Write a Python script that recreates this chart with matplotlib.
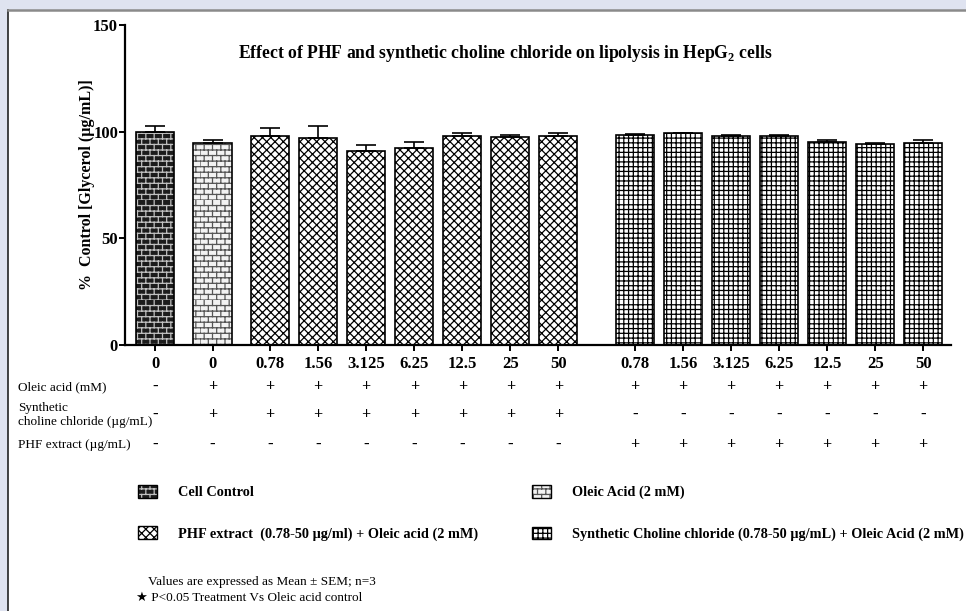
import warnings
import numpy as np
import matplotlib
matplotlib.use("Agg")
import matplotlib.pyplot as plt
import matplotlib.hatch as mhatch
from matplotlib.path import Path
from matplotlib.patches import Patch, Rectangle
from matplotlib.lines import Line2D
from matplotlib.transforms import blended_transform_factory

# 'b' and 'g' are not among matplotlib's built-in hatch letters
warnings.filterwarnings("ignore", message="hatch must consist")

# ---- data -------------------------------------------------------------
dose_labels = ["0", "0", "0.78", "1.56", "3.125", "6.25", "12.5", "25", "50",
               "0.78", "1.56", "3.125", "6.25", "12.5", "25", "50"]
glycerol_mean = [99.8, 94.8, 98.0, 97.0, 91.0, 92.3, 98.0, 97.3, 98.0,
                 98.6, 99.2, 97.8, 97.8, 95.3, 94.4, 94.8]
glycerol_sem = [2.7, 1.4, 3.7, 5.8, 2.6, 3.0, 1.2, 1.1, 1.4,
                0.3, 0.2, 0.6, 0.5, 0.7, 0.4, 1.4]
group = ["cell", "oleic"] + ["phf"] * 7 + ["choline"] * 7

oleic_row = ["-"] + ["+"] * 15
choline_row = ["-"] + ["+"] * 8 + ["-"] * 7
phf_row = ["-"] * 9 + ["+"] * 7
row_labels = ["Oleic acid (mM)", "Synthetic\ncholine chloride (\u00b5g/mL)",
              "PHF extract (\u00b5g/mL)"]

legend_labels = {
    "cell": "Cell Control",
    "oleic": "Oleic Acid (2 mM)",
    "phf": "PHF extract  (0.78-50 \u00b5g/ml) + Oleic acid (2 mM)",
    "choline": "Synthetic Choline chloride (0.78-50 \u00b5g/mL) + Oleic Acid (2 mM)",
}


# ---- extra hatches --------------------------------------------------------
class BrickHatch(mhatch.HatchPatternBase):
    """Staggered brick courses, drawn when the hatch string holds a 'b'."""
    rows, cols = 18, 12

    def __init__(self, hatch, density):
        self.on = "b" in hatch
        self.num_vertices = self.rows * (self.cols + 1) * 2 if self.on else 0

    def set_vertices_and_codes(self, vertices, codes):
        segs = []
        for i in range(self.rows):
            y0, y1 = i / self.rows, (i + 1) / self.rows
            segs.append(((0.0, y0), (1.0, y0)))
            for j in range(self.cols):
                xx = (j + 0.5 * (i % 2)) / self.cols
                segs.append(((xx, y0), (xx, y1)))
        vertices[:] = np.array(segs, float).reshape(-1, 2)
        codes[0::2] = Path.MOVETO
        codes[1::2] = Path.LINETO


class GridHatch(mhatch.HatchPatternBase):
    """Fine square grid, drawn for a 'g'."""
    n = 21

    def __init__(self, hatch, density):
        self.on = "g" in hatch
        self.num_vertices = self.n * 4 if self.on else 0

    def set_vertices_and_codes(self, vertices, codes):
        segs = []
        for k in np.arange(self.n) / self.n:
            segs.append(((0.0, k), (1.0, k)))
            segs.append(((k, 0.0), (k, 1.0)))
        vertices[:] = np.array(segs, float).reshape(-1, 2)
        codes[0::2] = Path.MOVETO
        codes[1::2] = Path.LINETO


mhatch._hatch_types.extend([BrickHatch, GridHatch])

# fill, hatch colour, hatch pattern for each treatment group
styles = {
    "cell": ("#1c1c1c", "#c0c0c0", "b"),
    "oleic": ("#f2f2f2", "#555555", "b"),
    "phf": ("white", "black", "xxxx"),
    "choline": ("white", "black", "g"),
}

plt.rcParams["font.family"] = ["Liberation Serif", "DejaVu Sans"]
plt.rcParams["hatch.linewidth"] = 0.9
plt.rcParams["mathtext.fontset"] = "custom"
plt.rcParams["mathtext.rm"] = "Liberation Serif"
plt.rcParams["mathtext.bf"] = "Liberation Serif:bold"

W, H = 966, 611
fig = plt.figure(figsize=(W / 100, H / 100), dpi=100, facecolor="#dfe3f0")

# white panel with a dark left rule and grey top rule
fig.patches.append(Rectangle((8 / W, 0), 1, 1 - 10 / H, transform=fig.transFigure,
                             facecolor="white", edgecolor="none", zorder=-5))
fig.lines.append(Line2D([8 / W, 8 / W], [0, 1 - 10 / H], transform=fig.transFigure,
                        color="#222222", lw=1.2))
fig.lines.append(Line2D([8 / W, 1], [1 - 10 / H, 1 - 10 / H], transform=fig.transFigure,
                        color="#8a8a8a", lw=1.8))

ax = fig.add_axes([125 / W, 1 - 345 / H, (951 - 125) / W, (345 - 25) / H])
ax.set_facecolor("none")

x = np.concatenate([[0.0, 1.2], 2.4 + np.arange(7), 10.0 + np.arange(7)])
mean = np.array(glycerol_mean)
sem = np.array(glycerol_sem)
grp = np.array(group)
width = 0.8

for g, (fc, hc, hp) in styles.items():
    m = grp == g
    if g in ("cell", "oleic"):
        ax.bar(x[m], mean[m], width, color=fc, edgecolor=hc, linewidth=0, hatch=hp)
        ax.bar(x[m], mean[m], width, fill=False, edgecolor="black", linewidth=1.2)
    else:
        ax.bar(x[m], mean[m], width, color=fc, edgecolor=hc, linewidth=1.2, hatch=hp)

ax.errorbar(x, mean, yerr=[np.zeros_like(sem), sem], fmt="none", ecolor="black",
            elinewidth=1.2, capsize=7, capthick=1.2, zorder=3)

ax.set_xlim(-0.625, 16.58)
ax.set_ylim(0, 150)
ax.set_yticks([0, 50, 100, 150])
ax.set_xticks(x)
ax.set_xticklabels(dose_labels)
for s in ("top", "right"):
    ax.spines[s].set_visible(False)
for s in ("left", "bottom"):
    ax.spines[s].set_linewidth(1.6)
ax.tick_params(axis="y", length=4, width=1.4, pad=1, labelsize=12)
ax.tick_params(axis="x", length=4, width=1.4, pad=4, labelsize=12)
for lab in ax.get_xticklabels() + ax.get_yticklabels():
    lab.set_fontweight("bold")

ax.set_ylabel("%  Control [Glycerol (\u00b5g/mL)]", fontsize=11.5, fontweight="bold")
ax.yaxis.set_label_coords(-0.036, 0.5)

fig.text(505 / W, 1 - 53 / H,
         r"Effect of PHF and synthetic choline chloride on lipolysis in HepG$_\mathbf{2}$ cells",
         ha="center", va="center", fontsize=12.7, fontweight="bold")

# treatment table under the axis
tr = blended_transform_factory(ax.transData, fig.transFigure)
row_y = [387, 415, 445]
for yy, label, row in zip(row_y, row_labels, [oleic_row, choline_row, phf_row]):
    fig.text(18 / W, 1 - yy / H, label, ha="left", va="center", fontsize=9.5,
             linespacing=1.15)
    for xi, sym in zip(x, row):
        ax.text(xi, 1 - yy / H, sym, transform=tr, ha="center", va="center",
                fontsize=11.5 if sym == "+" else 12, fontweight="bold")


def handle(g):
    fc, hc, hp = styles[g]
    if g in ("cell", "oleic"):
        return (Patch(facecolor=fc, edgecolor=hc, linewidth=0, hatch=hp),
                Patch(fill=False, edgecolor="black", linewidth=1.0))
    return Patch(facecolor=fc, edgecolor=hc, linewidth=1.0, hatch=hp)


leg_kw = dict(loc="upper left", frameon=False, handlelength=1.3,
              handleheight=1.0, handletextpad=1.5, labelspacing=1.9, borderpad=0,
              borderaxespad=0, prop={"weight": "bold", "size": 10.3})
fig.legend([handle("cell"), handle("phf")], [legend_labels["cell"], legend_labels["phf"]],
           bbox_to_anchor=(138 / W, 1 - 485 / H), **leg_kw)
fig.legend([handle("oleic"), handle("choline")],
           [legend_labels["oleic"], legend_labels["choline"]],
           bbox_to_anchor=(532 / W, 1 - 485 / H), **leg_kw)

fig.text(148 / W, 1 - 582 / H, "Values are expressed as Mean \u00b1 SEM; n=3",
         ha="left", va="center", fontsize=9.5)
fig.text(136 / W, 1 - 598 / H, "\u2605 P<0.05 Treatment Vs Oleic acid control",
         ha="left", va="center", fontsize=9.5)

fig.savefig("out.png", dpi=100, facecolor=fig.get_facecolor())
